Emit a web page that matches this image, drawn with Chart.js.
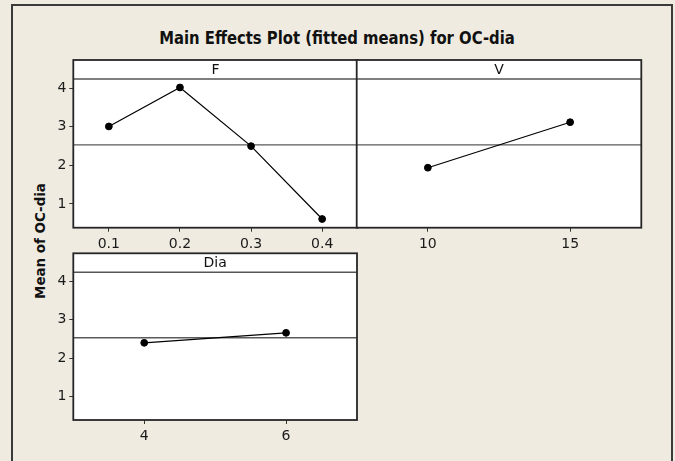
<!DOCTYPE html>
<html>
<head>
<meta charset="utf-8">
<script src="https://cdn.jsdelivr.net/npm/chart.js@4.4.1/dist/chart.umd.min.js"></script>
<style>
  html, body { margin: 0; padding: 0; background: #EFEBE1; }
  body { width: 675px; height: 461px; position: relative; overflow: hidden; font-family: "DejaVu Sans", sans-serif; }
  #frame { position: absolute; left: 11px; top: 4px; width: 662px; height: 500px; border: 2px solid #3a3a3a; box-sizing: border-box; }
  .ttl { position: absolute; white-space: nowrap; font-weight: bold; color: #111; font-stretch: condensed; }
  #title { left: 337px; top: 38px; font-size: 17px; line-height: 20px; }
  #ytitle { left: 39.5px; top: 241px; font-size: 14px; line-height: 16px; }
  canvas { position: absolute; }
</style>
</head>
<body>
<div id="frame"></div>
<div id="title" class="ttl">Main Effects Plot (fitted means) for OC-dia</div>
<div id="ytitle" class="ttl">Mean of OC-dia</div>
<canvas id="cF"></canvas>
<canvas id="cV"></canvas>
<canvas id="cDia"></canvas>
<script>
// Factor levels and fitted means of OC-dia
const fLevels = [0.1, 0.2, 0.3, 0.4];
const fMeans = [3.01, 4.02, 2.50, 0.61];
const vLevels = [10, 15];
const vMeans = [1.94, 3.12];
const diaLevels = [4, 6];
const diaMeans = [2.40, 2.66];
const yTicks = [1, 2, 3, 4];

const avg = a => a.reduce((s, v) => s + v, 0) / a.length;
// Grand mean reference line: average of the factor means
const grandMean = (avg(fMeans) + avg(vMeans) + avg(diaMeans)) / 3;

const tickFont = { family: 'DejaVu Sans', size: 14 };

// Draws the white panel, its label strip, the reference line and the frame
const panelPlugin = {
  id: 'panel',
  beforeDraw(chart, args, o) {
    const { ctx, chartArea: a } = chart;
    ctx.save();
    ctx.fillStyle = '#ffffff';
    ctx.fillRect(a.left, a.top - o.strip, a.right - a.left, a.bottom - a.top + o.strip);
    ctx.restore();
  },
  beforeDatasetsDraw(chart, args, o) {
    const { ctx, chartArea: a, scales: { y } } = chart;
    const yy = y.getPixelForValue(o.mean);
    ctx.save();
    ctx.strokeStyle = '#5a5a5a';
    ctx.lineWidth = 1.4;
    ctx.beginPath();
    ctx.moveTo(a.left, yy);
    ctx.lineTo(a.right, yy);
    ctx.stroke();
    ctx.restore();
  },
  afterDraw(chart, args, o) {
    const { ctx, chartArea: a } = chart;
    ctx.save();
    ctx.strokeStyle = '#555';
    ctx.lineWidth = 1.5;
    ctx.beginPath();
    ctx.moveTo(a.left, a.top);
    ctx.lineTo(a.right, a.top);
    ctx.stroke();
    ctx.strokeStyle = '#262626';
    ctx.lineWidth = 1.8;
    ctx.strokeRect(a.left, a.top - o.strip, a.right - a.left, a.bottom - a.top + o.strip);
    ctx.fillStyle = '#111';
    ctx.font = '14px "DejaVu Sans", sans-serif';
    ctx.textAlign = 'center';
    ctx.textBaseline = 'middle';
    ctx.fillText(o.label, (a.left + a.right) / 2, a.top - o.strip / 2 + 0.5);
    ctx.restore();
  }
};

function makePanel(id, box, label, levels, means, xMin, xMax, showY) {
  const cv = document.getElementById(id);
  cv.width = box.w; cv.height = box.h;
  Object.assign(cv.style, { left: box.x + 'px', top: box.y + 'px', width: box.w + 'px', height: box.h + 'px' });
  const gridCfg = { drawOnChartArea: false, drawTicks: true, tickLength: 4, color: '#333', lineWidth: 1 };
  return new Chart(cv, {
    type: 'line',
    data: {
      datasets: [{
        data: levels.map((v, i) => ({ x: v, y: means[i] })),
        borderColor: '#000',
        borderWidth: 1.2,
        pointRadius: 3.4,
        pointBackgroundColor: '#000',
        pointBorderColor: '#000',
        pointBorderWidth: 1,
        tension: 0
      }]
    },
    options: {
      responsive: false,
      devicePixelRatio: 1,
      animation: false,
      events: [],
      layout: { padding: { top: box.padTop, right: box.padRight, left: box.padLeft || 0, bottom: 0 } },
      plugins: {
        legend: { display: false },
        tooltip: { enabled: false },
        panel: { strip: 19, label: label, mean: grandMean }
      },
      scales: {
        x: {
          type: 'linear', min: xMin, max: xMax,
          afterBuildTicks: s => { s.ticks = levels.map(v => ({ value: v })); },
          afterFit: s => { s.height = box.xh; },
          grid: gridCfg,
          border: { display: false },
          ticks: { padding: 4, color: '#1a1a1a', font: tickFont, maxRotation: 0, autoSkip: false, callback: v => String(v) }
        },
        y: {
          type: 'linear', min: 0.385, max: 4.24,
          afterBuildTicks: s => { s.ticks = yTicks.map(v => ({ value: v })); },
          afterFit: s => { s.width = showY ? box.yw : 0; },
          grid: Object.assign({}, gridCfg, { display: showY }),
          border: { display: false },
          ticks: { display: showY, padding: 3, color: '#1a1a1a', font: tickFont, callback: v => String(v) }
        }
      }
    },
    plugins: [panelPlugin]
  });
}

makePanel('cF', { x: 40, y: 41, w: 325, h: 214, padTop: 38, padRight: 7.3, yw: 33.3, xh: 27.3 },
  'F', fLevels, fMeans, 0.05, 0.45, true);
makePanel('cV', { x: 350, y: 41, w: 300, h: 214, padTop: 38, padRight: 8.7, padLeft: 6.7, xh: 27.3 },
  'V', vLevels, vMeans, 7.5, 17.5, false);
makePanel('cDia', { x: 40, y: 234, w: 325, h: 224, padTop: 38.3, padRight: 8, yw: 33.3, xh: 38 },
  'Dia', diaLevels, diaMeans, 3, 7, true);

// Fit the titles to their widths
function fit(el, width, rotate) {
  const k = width / el.scrollWidth;
  el.style.transform = 'translate(-50%,-50%)' + (rotate ? ' rotate(-90deg)' : '') + ' scaleX(' + k + ')';
}
fit(document.getElementById('title'), 356, false);
fit(document.getElementById('ytitle'), 116, true);
</script>
</body>
</html>
